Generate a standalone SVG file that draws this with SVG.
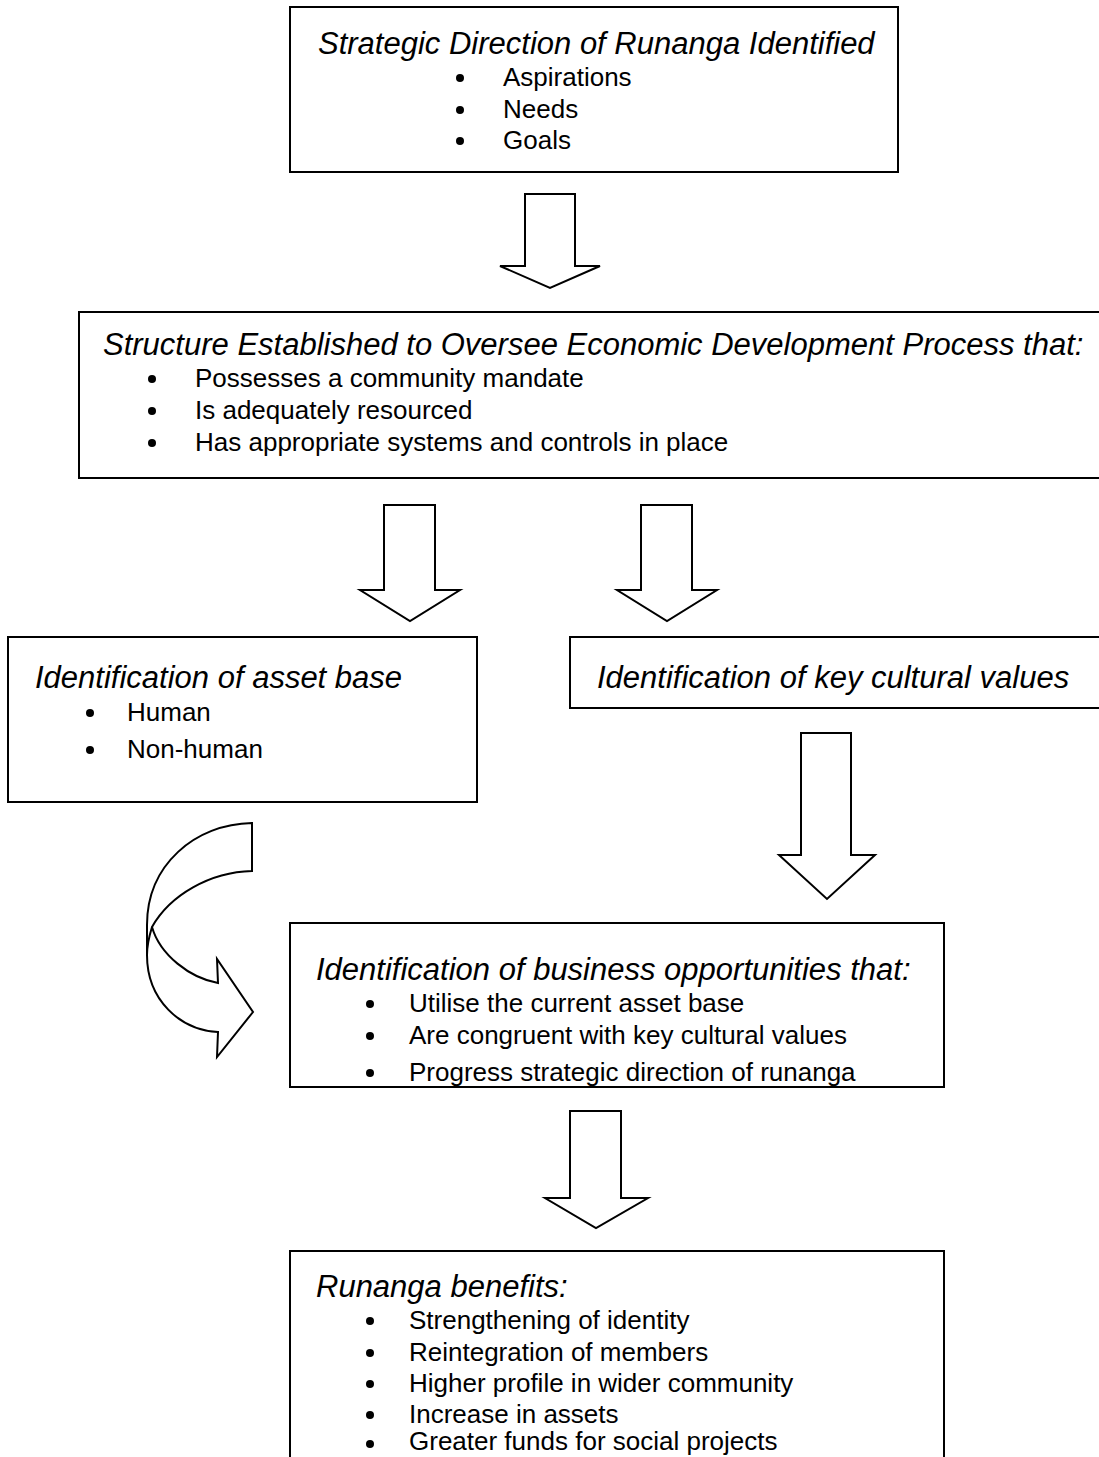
<svg xmlns="http://www.w3.org/2000/svg" width="1099" height="1457" viewBox="0 0 1099 1457">
<style>
.box{fill:#fff;stroke:#000;stroke-width:2}
.arr{fill:#fff;stroke:#000;stroke-width:2;stroke-linejoin:miter}
.t{font-family:"Liberation Sans",Arial,sans-serif;font-style:italic;font-size:31px;fill:#000}
.b{font-family:"Liberation Sans",Arial,sans-serif;font-size:26px;fill:#000}
.dot{fill:#000}
</style>
<rect width="1099" height="1457" fill="#fff"/>
<g id="connectors">
<path class="arr" d="M525,194 H575 V266 H600 L550,288 L500,266 H525 Z"/>
<path class="arr" d="M384,505 H435 V590 H460 L410,621 L360,590 H384 Z"/>
<path class="arr" d="M641,505 H692 V590 H717 L667,621 L617,590 H641 Z"/>
<path class="arr" d="M801,733 H851 V855 H875 L827,899 L779,855 H801 Z"/>
<path class="arr" d="M570,1111 H621 V1198 H648 L596,1228 L545,1198 H570 Z"/>
<path class="arr" d="M252,823 L252,871 C210,872 170,895 152,927 C160,955 190,978 218,983 L217,959 L253,1012 L217,1057 L218,1032 C180,1030 147,1000 147,955 L147,925 C147,865 195,824 252,823 Z"/>
<path class="arr" fill="none" d="M152,927 C148,940 147,950 147,955"/>
</g>
<g id="node1">
<rect class="box" x="290" y="7" width="608" height="165"/>
<text class="t" x="318" y="54">Strategic Direction of Runanga Identified</text>
<circle class="dot" cx="460" cy="78" r="4"/><text class="b" x="503" y="86">Aspirations</text>
<circle class="dot" cx="460" cy="110" r="4"/><text class="b" x="503" y="118">Needs</text>
<circle class="dot" cx="460" cy="141" r="4"/><text class="b" x="503" y="149">Goals</text>
</g>
<g id="node2">
<rect class="box" x="79" y="312" width="1030" height="166"/>
<text class="t" x="103" y="355">Structure Established to Oversee Economic Development Process that:</text>
<circle class="dot" cx="152" cy="379" r="4"/><text class="b" x="195" y="387">Possesses a community mandate</text>
<circle class="dot" cx="152" cy="411" r="4"/><text class="b" x="195" y="419">Is adequately resourced</text>
<circle class="dot" cx="152" cy="443" r="4"/><text class="b" x="195" y="451">Has appropriate systems and controls in place</text>
</g>
<g id="node3">
<rect class="box" x="8" y="637" width="469" height="165"/>
<text class="t" x="35" y="688">Identification of asset base</text>
<circle class="dot" cx="90" cy="713" r="4"/><text class="b" x="127" y="721">Human</text>
<circle class="dot" cx="90" cy="750" r="4"/><text class="b" x="127" y="758">Non-human</text>
</g>
<g id="node4">
<rect class="box" x="570" y="637" width="540" height="71"/>
<text class="t" x="597" y="688">Identification of key cultural values</text>
</g>
<g id="node5">
<rect class="box" x="290" y="923" width="654" height="164"/>
<text class="t" x="316" y="980">Identification of business opportunities that:</text>
<circle class="dot" cx="370" cy="1004" r="4"/><text class="b" x="409" y="1012">Utilise the current asset base</text>
<circle class="dot" cx="370" cy="1036" r="4"/><text class="b" x="409" y="1044">Are congruent with key cultural values</text>
<circle class="dot" cx="370" cy="1073" r="4"/><text class="b" x="409" y="1081">Progress strategic direction of runanga</text>
</g>
<g id="node6">
<rect class="box" x="290" y="1251" width="654" height="220"/>
<text class="t" x="316" y="1297">Runanga benefits:</text>
<circle class="dot" cx="370" cy="1321" r="4"/><text class="b" x="409" y="1329">Strengthening of identity</text>
<circle class="dot" cx="370" cy="1353" r="4"/><text class="b" x="409" y="1361">Reintegration of members</text>
<circle class="dot" cx="370" cy="1384" r="4"/><text class="b" x="409" y="1392">Higher profile in wider community</text>
<circle class="dot" cx="370" cy="1415" r="4"/><text class="b" x="409" y="1423">Increase in assets</text>
<circle class="dot" cx="370" cy="1444" r="4"/><text class="b" x="409" y="1450">Greater funds for social projects</text>
</g>
</svg>
